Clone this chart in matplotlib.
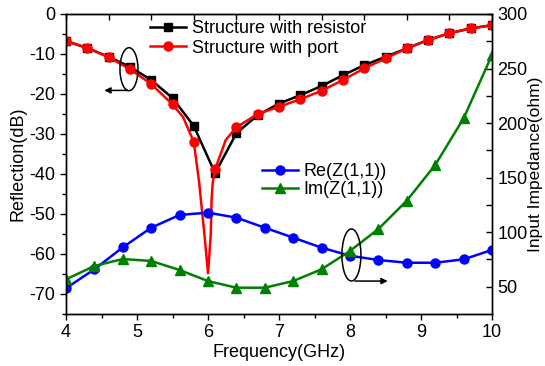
import numpy as np
import matplotlib
matplotlib.use('Agg')
from matplotlib import pyplot as plt
from matplotlib.patches import Ellipse

plt.rcParams['font.family'] = ['Liberation Sans', 'DejaVu Sans']
plt.rcParams['font.size'] = 13
plt.rcParams['axes.unicode_minus'] = False

# reflection curves, markers every 0.3 GHz
freq_s = [4.0, 4.3, 4.6, 4.9, 5.2, 5.5, 5.8, 6.1, 6.4, 6.7, 7.0,
          7.3, 7.6, 7.9, 8.2, 8.5, 8.8, 9.1, 9.4, 9.7, 10.0]
s_resistor = [-6.75, -8.5, -10.7, -13.2, -16.5, -21.0, -28.0, -39.8, -29.8, -25.3, -22.4,
              -20.3, -18.0, -15.3, -12.8, -10.7, -8.6, -6.5, -4.8, -3.6, -2.8]
s_port = [-6.75, -8.5, -10.8, -13.8, -17.5, -22.6, -32.0, -38.8, -28.3, -25.0, -23.2,
          -21.3, -19.2, -16.5, -13.6, -11.1, -8.6, -6.5, -4.8, -3.6, -2.8]
# port curve around the resonance dip
freq_dip = [5.65, 5.877, 5.90, 5.948, 5.975, 6.0, 6.02, 6.04, 6.05, 6.066, 6.25]
s_dip = [-25.8, -42.3, -46.5, -54.75, -60.0, -64.8, -60.0, -54.75, -46.5, -42.3, -31.5]

# input impedance, markers every 0.4 GHz
freq_z = [4.0, 4.4, 4.8, 5.2, 5.6, 6.0, 6.4, 6.8, 7.2, 7.6, 8.0, 8.4, 8.8, 9.2, 9.6, 10.0]
re_z = [48.6, 66.0, 86.1, 104.1, 115.8, 117.9, 113.3, 104.1, 95.0, 85.8, 78.4, 74.5, 72.0, 72.0, 75.1, 83.7]
im_z = [56.8, 69.0, 75.4, 73.6, 65.3, 55.2, 49.1, 49.1, 55.2, 66.0, 82.8, 102.9, 128.9, 161.6, 204.4, 262.4]

# port line = markers + dip points, sorted by frequency
fp = np.array(freq_s + freq_dip)
sp = np.array(s_port + s_dip)
order = fp.argsort()
fp, sp = fp[order], sp[order]

fig = plt.figure(figsize=(5.45, 3.66), dpi=100)
ax = fig.add_axes([66/545, 1-314/366, (492-66)/545, 300/366])
ax2 = ax.twinx()

lw = 1.8
ax.plot(freq_s, s_resistor, color='black', lw=lw, marker='s', ms=5.5, label='Structure with resistor')
ax.plot(fp, sp, color='red', lw=lw)
ax.plot(freq_s, s_port, color='red', lw=0, marker='o', ms=6.5)
ax.plot([], [], color='red', lw=lw, marker='o', ms=6.5, label='Structure with port')

ax2.plot(freq_z, re_z, color='blue', lw=lw, marker='o', ms=6.5, label='Re(Z(1,1))')
ax2.plot(freq_z, im_z, color='green', lw=lw, marker='^', ms=6.5, label='Im(Z(1,1))')

ax.set_xlim(4, 10)
ax.set_ylim(-75, 0)
ax2.set_ylim(25, 300)
ax.set_xticks([4, 5, 6, 7, 8, 9, 10])
ax.set_xticks(np.arange(4.5, 10, 1), minor=True)
ax.set_yticks([-70, -60, -50, -40, -30, -20, -10, 0])
ax.set_yticks(np.arange(-75, 0, 10), minor=True)
ax2.set_yticks([50, 100, 150, 200, 250, 300])
ax2.set_yticks([75, 125, 175, 225, 275], minor=True)

ax.tick_params(which='both', direction='out', width=1, labelsize=13)
ax.tick_params(which='major', length=4)
ax.tick_params(which='minor', length=3)
ax2.tick_params(which='both', direction='in', length=4, width=1, labelsize=13, pad=4)

top = ax.secondary_xaxis('top')
top.set_xticks(np.arange(4, 10.01, 0.6))
top.set_xticklabels([])
top.tick_params(direction='in', length=4, width=1)

for a in (ax, ax2):
    for s in a.spines.values():
        s.set_linewidth(1)

ax.set_xlabel('Frequency(GHz)', fontsize=13, labelpad=2)
ax.set_ylabel('Reflection(dB)', fontsize=13, labelpad=2)
ax2.set_ylabel('Input Impedance(ohm)', fontsize=12.5, labelpad=0)

ax.legend(loc='upper left', bbox_to_anchor=(150/545, 1-20/366), bbox_transform=fig.transFigure,
          frameon=False, fontsize=13, handlelength=2.0, handletextpad=0.3, labelspacing=0.15,
          borderpad=0, borderaxespad=0)
ax2.legend(loc='upper left', bbox_to_anchor=(262/545, 1-163/366), bbox_transform=fig.transFigure,
           frameon=False, fontsize=13, handlelength=2.0, handletextpad=0.3, labelspacing=0.05,
           borderpad=0, borderaxespad=0)

# ellipse + arrow markers pointing at each axis
ax.add_patch(Ellipse((4.887, -13.8), 0.254, 10.75, fill=False, edgecolor='black', lw=1.1, zorder=5))
ax.annotate('', xy=(4.50, -19.1), xytext=(4.91, -19.1),
            arrowprops=dict(arrowstyle='-|>', color='black', lw=1.1, mutation_scale=9))
ax2.add_patch(Ellipse((8.02, 79.1), 0.268, 47.7, fill=False, edgecolor='black', lw=1.1, zorder=5))
ax2.annotate('', xy=(8.57, 55.2), xytext=(8.03, 55.2),
             arrowprops=dict(arrowstyle='-|>', color='black', lw=1.1, mutation_scale=9))

fig.savefig('out.png', dpi=100)
